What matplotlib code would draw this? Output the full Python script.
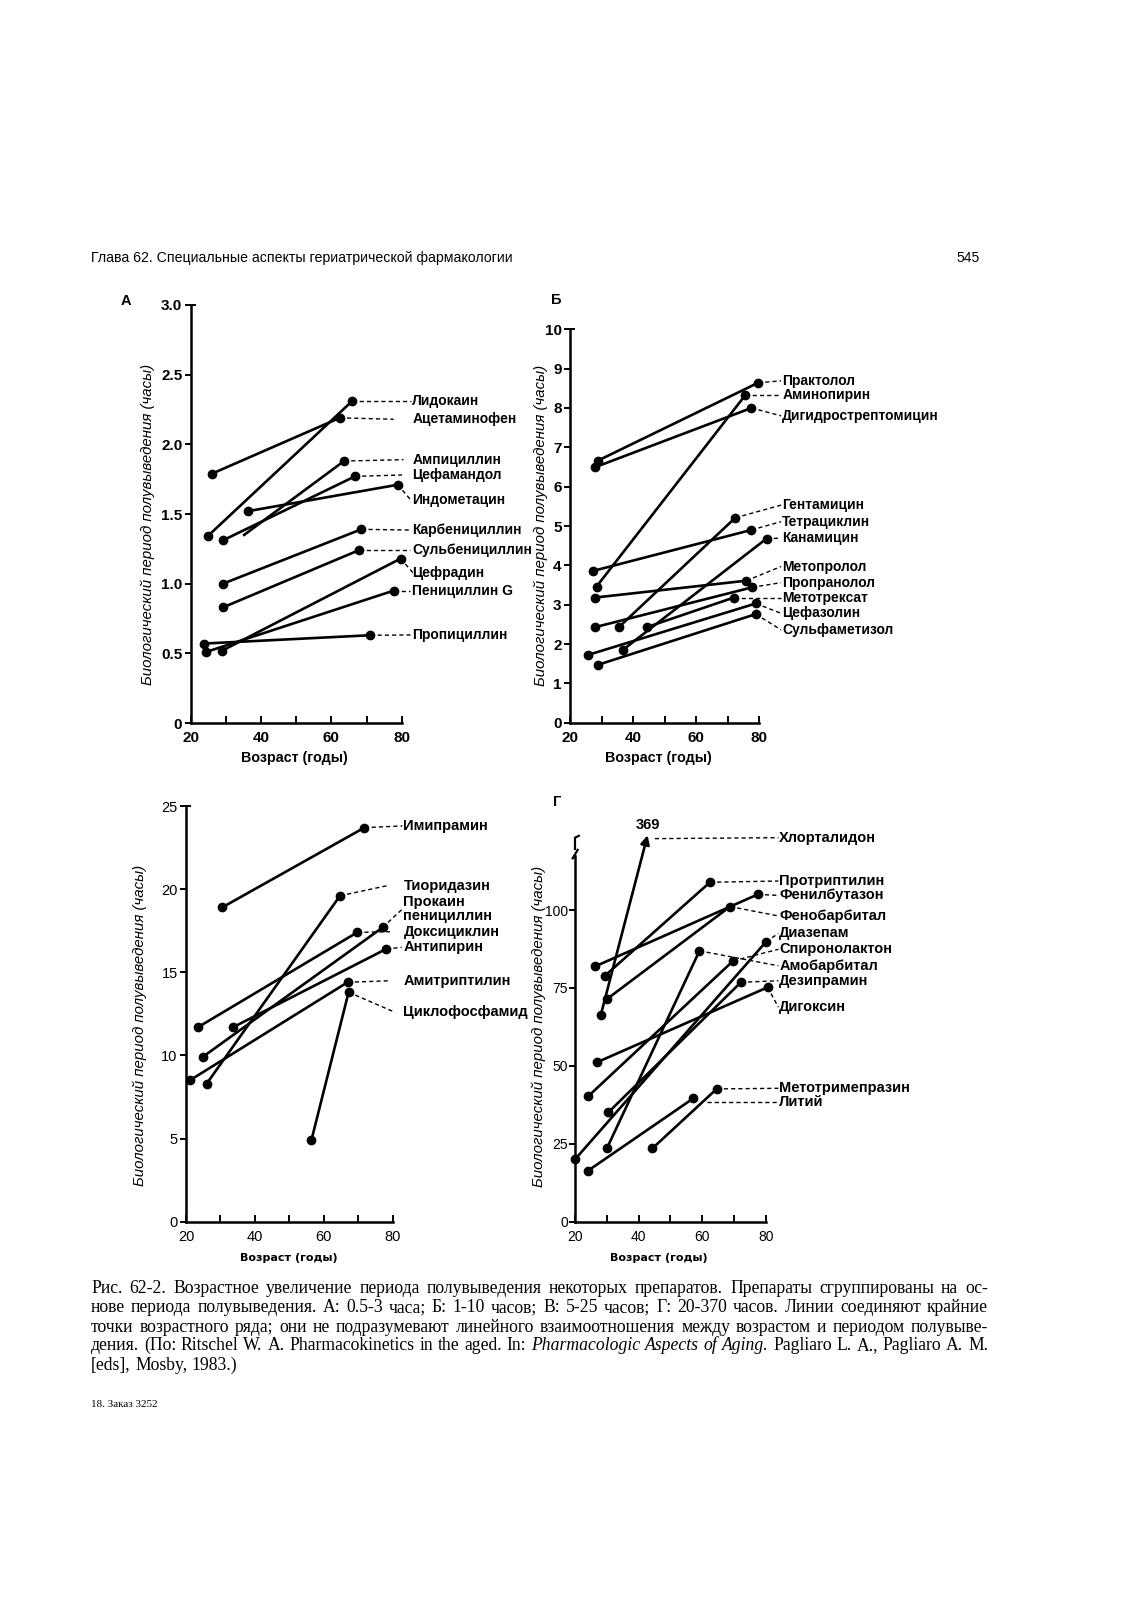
import numpy as np
import matplotlib
matplotlib.use('Agg')
from matplotlib import pyplot as plt
import matplotlib.transforms as mtransforms

plt.rcParams['font.family'] = ['Liberation Sans', 'DejaVu Sans']

W, H = 1132, 1601

# A: 0.5-3 h
drugs_a = ['Лидокаин', 'Ацетаминофен', 'Ампициллин', 'Цефамандол', 'Индометацин',
           'Карбенициллин', 'Сульбенициллин', 'Цефрадин', 'Пенициллин G', 'Пропициллин']
young_age_a = [24.8, 26.1, 35.2, 29.1, 36.2, 29.2, 29.2, 29.0, 24.4, 23.7]
old_age_a = [65.9, 62.4, 63.6, 66.7, 78.9, 68.5, 67.8, 79.7, 77.7, 71.1]
young_t_a = [1.34, 1.79, 1.35, 1.31, 1.52, 1.00, 0.83, 0.52, 0.51, 0.57]
old_t_a = [2.31, 2.19, 1.88, 1.77, 1.71, 1.39, 1.24, 1.18, 0.95, 0.63]

# Б: 1-10 h
drugs_b = ['Практолол', 'Аминопирин', 'Дигидрострептомицин', 'Гентамицин', 'Тетрациклин',
           'Канамицин', 'Метопролол', 'Пропранолол', 'Метотрексат', 'Цефазолин', 'Сульфаметизол']
young_age_b = [28.8, 28.4, 27.8, 35.5, 27.4, 36.9, 27.8, 28.0, 44.4, 25.6, 28.8]
old_age_b = [79.6, 75.6, 77.5, 72.4, 77.5, 82.3, 75.9, 77.7, 71.9, 78.9, 78.9]
young_t_b = [6.66, 3.46, 6.49, 2.43, 3.86, 1.86, 3.18, 2.43, 2.43, 1.72, 1.47]
old_t_b = [8.64, 8.33, 8.00, 5.21, 4.90, 4.68, 3.61, 3.44, 3.18, 3.03, 2.76]

# В: 5-25 h
drugs_v = ['Имипрамин', 'Тиоридазин', 'Прокаин\nпенициллин', 'Доксициклин', 'Антипирин',
           'Амитриптилин', 'Циклофосфамид']
young_age_v = [30.5, 26.0, 24.8, 23.5, 33.7, 21.1, 56.4]
old_age_v = [71.8, 64.7, 77.1, 69.7, 78.1, 66.9, 67.2]
young_t_v = [18.9, 8.3, 9.9, 11.7, 11.7, 8.5, 4.9]
old_t_v = [23.7, 19.6, 17.7, 17.4, 16.4, 14.4, 13.8]

# Г: 20-370 h
drugs_g = ['Протриптилин', 'Фенилбутазон', 'Фенобарбитал', 'Диазепам', 'Спиронолактон',
           'Амобарбитал', 'Дезипрамин', 'Дигоксин', 'Метотримепразин', 'Литий']
young_age_g = [29.4, 26.3, 30.0, 20.0, 24.2, 30.0, 30.5, 26.8, 44.3, 24.0]
old_age_g = [62.4, 77.4, 68.7, 80.0, 69.7, 59.1, 72.1, 80.5, 64.5, 57.2]
young_t_g = [78.9, 81.9, 71.4, 20.0, 40.3, 23.5, 35.1, 51.1, 23.5, 16.3]
old_t_g = [108.9, 105.0, 101.1, 89.8, 83.7, 86.9, 76.8, 75.2, 42.6, 39.6]
chlor_age = [28.1, 42.8]
chlor_t = [66.3, 369]

# label layout (data units of each panel)
lab_y_a = [2.31, 2.18, 1.89, 1.78, 1.60, 1.385, 1.24, 1.075, 0.95, 0.632]
lead_a = [82.6, 77.7, 80.5, 80.1, 82.6, 82.3, 82.3, 83.3, 82.5, 82.5]
lab_y_b = [8.69, 8.33, 7.80, 5.53, 5.11, 4.69, 3.97, 3.56, 3.18, 2.78, 2.36]
lead_b = [86.9] * 11
lab_y_v = [23.8, 20.2, 18.8, 17.44, 16.5, 14.49, 12.59]
lead_v = [82.8, 78.2, 82.8, 79.2, 82.6, 79.2, 80.7]
lab_y_g = [109.3, 104.7, 98.1, 92.5, 87.4, 82.1, 77.3, 68.8, 42.8, 38.5]
lead_g = [83.9] * 10

fig = plt.figure(figsize=(W / 100, H / 100), dpi=100)
fig.patch.set_facecolor('white')


def box(l, t, r, b):
    return [l / W, 1 - b / H, (r - l) / W, (b - t) / H]


def style(ax, ymax, yt, ylab, top, bold, fs):
    ax.set_xlim(20, 80)
    ax.set_ylim(0, ymax)
    ax.patch.set_alpha(0)
    for s in ['top', 'right']:
        ax.spines[s].set_visible(False)
    for s in ['left', 'bottom']:
        ax.spines[s].set_linewidth(1.8)
    ax.spines['left'].set_bounds(0, top)
    ax.set_xticks([20, 40, 60, 80])
    ax.set_xticks([30, 50, 70], minor=True)
    ax.tick_params(axis='x', which='both', direction='in', length=5, width=1.4, pad=6)
    ax.set_yticks(yt)
    ax.set_yticklabels(ylab)
    ax.tick_params(axis='y', direction='out', length=4, width=1.4, pad=2)
    for t in ax.get_xticklabels() + ax.get_yticklabels():
        t.set_fontsize(fs)
        t.set_fontweight('bold' if bold else 'normal')


def draw(ax, a0, a1, t0, t1, names, lab_y, lead, lab_x, fs, no_dot=(), lead_from=None):
    lead_from = lead_from or {}
    for i, name in enumerate(names):
        ax.plot([a0[i], a1[i]], [t0[i], t1[i]], color='k', lw=1.9, clip_on=False, zorder=3)
        if name not in no_dot:
            ax.plot(a0[i], t0[i], 'o', color='k', ms=6, clip_on=False, zorder=4)
        ax.plot(a1[i], t1[i], 'o', color='k', ms=6, clip_on=False, zorder=4)
        sx, sy = lead_from.get(name, (a1[i], t1[i]))
        ax.plot([sx, lead[i]], [sy, lab_y[i]], color='k', lw=1.0, ls=(0, (3, 2.2)),
                clip_on=False, zorder=2)
        ax.text(lab_x, lab_y[i], name, fontsize=fs, fontweight='bold', va='center',
                ha='left', linespacing=0.95, clip_on=False)


# panel A
ax_a = fig.add_axes(box(190.7, 305, 401.7, 723))
style(ax_a, 3.0, [0, 0.5, 1.0, 1.5, 2.0, 2.5, 3.0],
      ['0', '0.5', '1.0', '1.5', '2.0', '2.5', '3.0'], 3.0, True, 11)
draw(ax_a, young_age_a, old_age_a, young_t_a, old_t_a, drugs_a, lab_y_a, lead_a, 83.0, 10,
     no_dot=('Ампициллин',))
ax_a.plot([20, 21.3], [3.0, 3.0], color='k', lw=1.4, clip_on=False)

# panel Б
ax_b = fig.add_axes(box(570, 329.3, 759.3, 722.7))
style(ax_b, 10, list(range(11)), [str(v) for v in range(11)], 10, True, 11)
draw(ax_b, young_age_b, old_age_b, young_t_b, old_t_b, drugs_b, lab_y_b, lead_b, 87.3, 10)
ax_b.plot([20, 21.3], [10, 10], color='k', lw=1.4, clip_on=False)

# panel В
ax_v = fig.add_axes(box(186, 806, 392.7, 1221.7))
style(ax_v, 25, [0, 5, 10, 15, 20, 25], ['0', '5', '10', '15', '20', '25'], 25, False, 10.5)
draw(ax_v, young_age_v, old_age_v, young_t_v, old_t_v, drugs_v, lab_y_v, lead_v, 83.1, 10.5)
ax_v.plot([20, 21.3], [25, 25], color='k', lw=1.4, clip_on=False)

# panel Г (broken axis)
ax_g = fig.add_axes(box(575, 816.5, 766, 1221.7))
style(ax_g, 130, [0, 25, 50, 75, 100], ['0', '25', '50', '75', '100'], 117.3, False, 10)
ax_g.tick_params(axis='y', pad=1)
draw(ax_g, young_age_g, old_age_g, young_t_g, old_t_g, drugs_g, lab_y_g, lead_g, 84.2, 10.5,
     lead_from={'Литий': (61.4, 38.5)})
brk = 124.0
ax_g.plot(chlor_age[0], chlor_t[0], 'o', color='k', ms=6, clip_on=False, zorder=4)
ax_g.annotate('', xy=(chlor_age[1], min(chlor_t[1], brk)), xytext=(chlor_age[0], chlor_t[0]),
              arrowprops=dict(arrowstyle='-|>', lw=1.9, color='k', mutation_scale=13,
                              shrinkA=0, shrinkB=0), annotation_clip=False)
ax_g.text(chlor_age[1], 127.3, str(chlor_t[1]), ha='center', va='center', fontsize=10.5,
          fontweight='bold')
ax_g.plot([45.1, 83.9], [122.9, 123.2], color='k', lw=1.0, ls=(0, (3, 2.2)), clip_on=False)
ax_g.text(84.2, 123.2, 'Хлорталидон', fontsize=10.5, fontweight='bold', va='center', ha='left')
tr = mtransforms.blended_transform_factory(ax_g.transAxes, ax_g.transData)
ax_g.plot([-0.012, 0.014], [116.6, 119.3], color='k', lw=1.6, transform=tr, clip_on=False)
ax_g.plot([0, 0, 0.02], [119.6, 123.2, 123.8], color='k', lw=1.6, transform=tr, clip_on=False)

# labels
ylab = 'Биологический период полувыведения (часы)'
for x, y in [(148.3, 524), (540.5, 525.7), (140, 1025), (539, 1026.7)]:
    fig.text(x / W, 1 - y / H, ylab, rotation=90, ha='center', va='center',
             style='italic', fontsize=10.8)
for x, y in [(294, 758), (658.5, 758)]:
    fig.text(x / W, 1 - y / H, 'Возраст (годы)', ha='center', va='center',
             fontsize=10.3, fontweight='bold')
for x, y in [(289, 1258), (658.5, 1258)]:
    fig.text(x / W, 1 - y / H, 'Возраст (годы)', ha='center', va='center',
             fontsize=8, fontweight='bold', family='DejaVu Sans')
for x, y, s in [(126, 301, 'А'), (556, 300, 'Б'), (556.7, 802, 'Г')]:
    fig.text(x / W, 1 - y / H, s, ha='center', va='center', fontsize=10.5, fontweight='bold')

renderer = fig.canvas.get_renderer()

# running header, fitted to its width on the page
head = fig.text(91 / W, 1 - 258 / H, 'Глава 62. Специальные аспекты гериатрической фармакологии',
                ha='left', va='center', fontsize=10)
w0 = head.get_window_extent(renderer).width
head.set_fontsize(10 * 422 / w0)
fig.text(980 / W, 1 - 258 / H, '545', ha='right', va='center', fontsize=10)

# caption, justified word by word (baseline aligned)
cap_lines = [
    [('Рис. 62-2. Возрастное увеличение периода полувыведения некоторых препаратов. '
      'Препараты сгруппированы на ос-', 'normal')],
    [('нове периода полувыведения. А: 0.5-3 часа; Б: 1-10 часов; В: 5-25 часов; '
      'Г: 20-370 часов. Линии соединяют крайние', 'normal')],
    [('точки возрастного ряда; они не подразумевают линейного взаимоотношения между '
      'возрастом и периодом полувыве-', 'normal')],
    [('дения. (По: Ritschel W. A. Pharmacokinetics in the aged. In:', 'normal'),
     ('Pharmacologic Aspects of Aging.', 'italic'),
     ('Pagliaro L. A., Pagliaro A. M.', 'normal')],
    [('[eds], Mosby, 1983.)', 'normal')],
]
cap_base = [1293, 1312.4, 1331.8, 1350.2, 1369.6]
cap_fs = 12.7
for k, (parts, y) in enumerate(zip(cap_lines, cap_base)):
    words = []
    for txt, st in parts:
        for wd in txt.split():
            words.append((wd, st))
    widths = []
    for wd, st in words:
        probe = fig.text(0, 0, wd, fontsize=cap_fs, family='Liberation Serif', style=st)
        widths.append(probe.get_window_extent(renderer).width)
        probe.remove()
    if k < len(cap_lines) - 1:
        gap = (988 - 91 - sum(widths)) / (len(words) - 1)
    else:
        gap = 4.5
    x = 91
    for (wd, st), w in zip(words, widths):
        fig.text(x / W, 1 - y / H, wd, fontsize=cap_fs, family='Liberation Serif',
                 style=st, ha='left', va='baseline')
        x += w + gap

fig.text(91 / W, 1 - 1404.6 / H, '18. Заказ 3252', ha='left', va='center', fontsize=8,
         family='Liberation Serif')

plt.savefig('out.png', dpi=100)
